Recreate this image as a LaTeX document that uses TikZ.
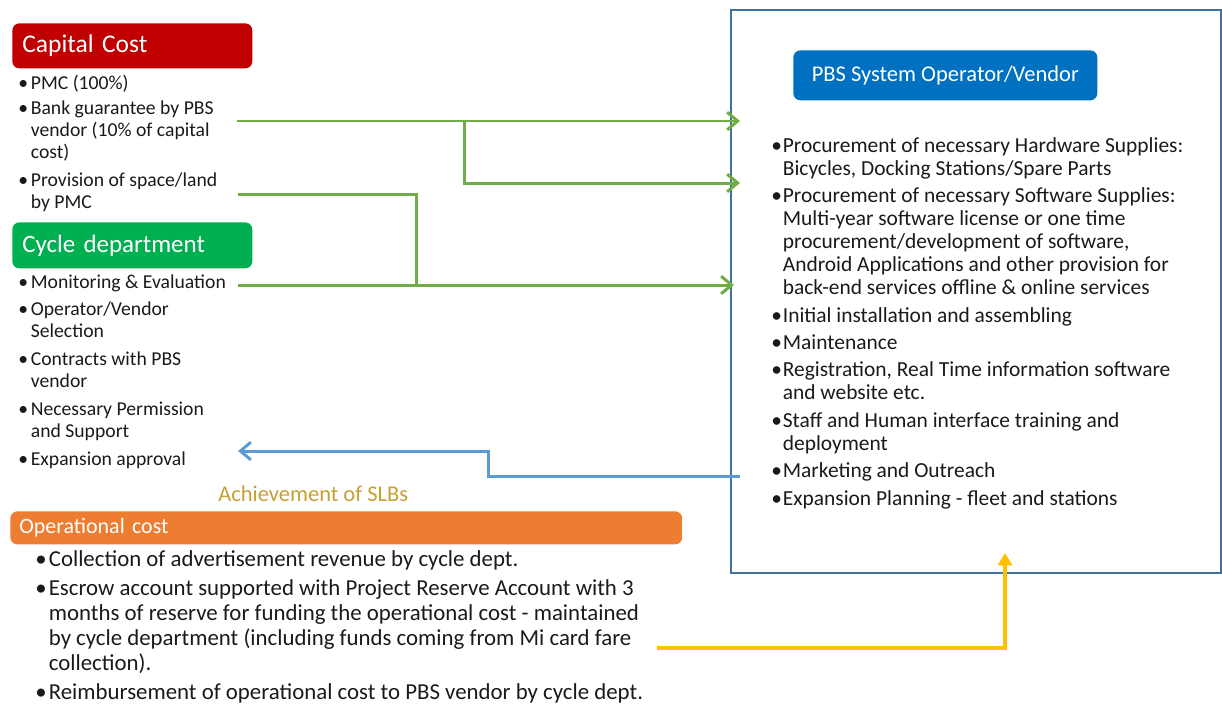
\documentclass[tikz,border=0pt]{standalone}
\usepackage{fontspec}
\setmainfont{Carlito}
\usetikzlibrary{arrows.meta, positioning}

\definecolor{capred}{HTML}{C00000}
\definecolor{cycgreen}{HTML}{00B050}
\definecolor{pbsblue}{HTML}{0070C0}
\definecolor{oporange}{HTML}{ED7D31}
\definecolor{arrgreen}{HTML}{70AD47}
\definecolor{arrblue}{HTML}{5B9BD5}
\definecolor{arryellow}{HTML}{FFC000}
\definecolor{framecol}{HTML}{41719C}
\definecolor{slbgold}{HTML}{C4A035}
\definecolor{txt}{HTML}{1A1A1A}

\newcommand{\bul}{\makebox[0.25cm][l]{\textbullet}}
\newcommand{\ind}{\hspace*{0.25cm}}
\newcommand{\rbul}{\makebox[0.23cm][l]{\textbullet}}
\newcommand{\rind}{\hspace*{0.23cm}}
\newcommand{\wbul}{\makebox[0.27cm][l]{\textbullet}}
\newcommand{\wind}{\hspace*{0.27cm}}

\begin{document}
\begin{tikzpicture}[x=0.02cm, y=-0.02cm,
    hdr/.style={rounded corners=4pt, text=white, inner xsep=0.2cm, inner ysep=0pt, align=left, anchor=north west},
    listtxt/.style={inner sep=0pt, align=left, anchor=north west, text=txt},
    garrow/.style={draw=arrgreen, line width=1.7pt, -{Straight Barb[length=6pt, width=10pt, line width=1.7pt]}},
    gline/.style={draw=arrgreen, line width=1.7pt},
    barrow/.style={draw=arrblue, line width=1.7pt, -{Straight Barb[length=6pt, width=10pt, line width=1.7pt]}},
    yarrow/.style={draw=arryellow, line width=2pt, -{Triangle[length=7pt, width=8pt]}}]
\useasboundingbox (0,0) rectangle (1222,707);

% Vendor frame
\draw[framecol, line width=0.6pt] (731,10) rectangle (1221,573);
\node[hdr, fill=pbsblue, minimum width=6.08cm, minimum height=1.0cm, align=center,
      font=\fontsize{12.8}{14}\selectfont] (pbs) at (793,50) {PBS System Operator/Vendor};

% Capital cost
\node[hdr, fill=capred, text width=4.4cm, minimum height=0.9cm,
      font=\fontsize{14.5}{16}\selectfont] (capital) at (12,23) {Capital Cost};
\node[listtxt, font=\fontsize{11.2}{12.5}\selectfont] (caplist) at (18,75)
  {\bul PMC (100\%)\\[1.7pt]
   \bul Bank guarantee by PBS\\
   \ind vendor (10\% of capital\\
   \ind cost)\\[3.4pt]
   \bul Provision of space/land\\
   \ind by PMC};

% Cycle department
\node[hdr, fill=cycgreen, text width=4.4cm, minimum height=0.92cm,
      font=\fontsize{14.2}{16}\selectfont] (cycle) at (12,222) {Cycle department};
\node[listtxt, font=\fontsize{11.2}{12.5}\selectfont] (cyclist) at (18,274)
  {\bul Monitoring \& Evaluation\\[3.4pt]
   \bul Operator/Vendor\\
   \ind Selection\\[3.4pt]
   \bul Contracts with PBS\\
   \ind vendor\\[3.4pt]
   \bul Necessary Permission\\
   \ind and Support\\[3.4pt]
   \bul Expansion approval};

% Vendor tasks
\node[listtxt, font=\fontsize{12.2}{13.1}\selectfont] (pbslist) at (771,137)
  {\rbul Procurement of necessary Hardware Supplies:\\
   \rind Bicycles, Docking Stations/Spare Parts\\[2.5pt]
   \rbul Procurement of necessary Software Supplies:\\
   \rind Multi-year software license or one time\\
   \rind procurement/development of software,\\
   \rind Android Applications and other provision for\\
   \rind back-end services\ offline \& online services\\[2.5pt]
   \rbul Initial installation and assembling\\[2.5pt]
   \rbul Maintenance\\[2.5pt]
   \rbul Registration, Real Time information software\\
   \rind and website etc.\\[2.5pt]
   \rbul Staff and Human interface training and\\
   \rind deployment\\[2.5pt]
   \rbul Marketing and Outreach\\[2.5pt]
   \rbul Expansion Planning - fleet and stations};

% Operational cost
\node[listtxt, text=slbgold, font=\fontsize{12.8}{14}\selectfont] (slb) at (218,486) {Achievement\ of SLBs};
\node[hdr, fill=oporange, text width=13.08cm, minimum height=0.66cm, inner xsep=0.18cm,
      font=\fontsize{12.5}{15}\selectfont] (opcost) at (10,511) {Operational cost};
\node[listtxt, font=\fontsize{13}{14.1}\selectfont] (oplist) at (35,550)
  {\wbul Collection of advertisement\ revenue\ by cycle dept.\\[2.8pt]
   \wbul Escrow account supported with Project Reserve\ Account with 3\\
   \wind months of reserve\ for funding the operational cost - maintained\\
   \wind by cycle department\ (including funds coming from Mi card fare\\
   \wind collection).\\[2.6pt]
   \wbul Reimbursement\ of operational cost to PBS vendor by cycle dept.};

% Connectors
\coordinate (bank) at (237,121);
\coordinate (split) at (464,121);
\coordinate (hw) at (740,121);
\coordinate (sw) at (740,183);
\coordinate (land) at (238,194);
\coordinate (join) at (416,194);
\coordinate (monit) at (238,285);
\coordinate (ops) at (734,285);
\coordinate (mkt) at (740,476);
\coordinate (appr) at (238,451);
\coordinate (esc) at (657,648);
\coordinate (frm) at (1005,553);

\draw[garrow] (bank) -- (hw);
\draw[garrow] (split) |- (sw);
\draw[gline] (land) -| (join |- monit);
\draw[garrow] (monit) -- (ops);
\draw[barrow] (mkt) -- (488,476) |- (appr);
\draw[yarrow] (esc) -| (frm);
\end{tikzpicture}
\end{document}
